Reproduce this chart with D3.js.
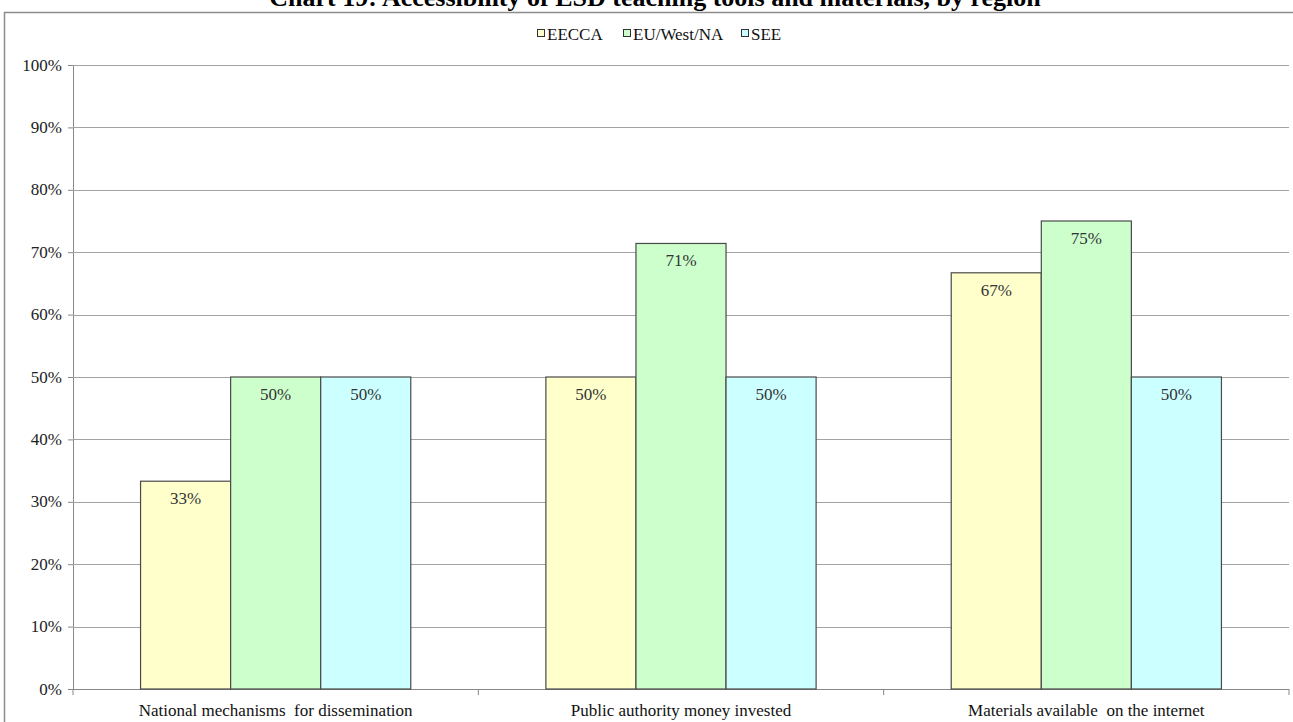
<!DOCTYPE html>
<html>
<head>
<meta charset="utf-8">
<script src="https://cdn.jsdelivr.net/npm/d3@7"></script>
<style>
body { margin: 0; background: #fff; }
svg text { font-family: "Liberation Serif", "Times New Roman", serif; }
</style>
</head>
<body>
<div id="container"></div>
<script>
var categories = ['National mechanisms  for dissemination', 'Public authority money invested', 'Materials available  on the internet'];
var regions = ['EECCA', 'EU/West/NA', 'SEE'];
var eecca = [33.3, 50, 66.7];
var euWestNa = [50, 71.4, 75];
var see = [50, 50, 50];
var yTicks = [0, 10, 20, 30, 40, 50, 60, 70, 80, 90, 100];
var colors = ['#ffffcc', '#ccffcc', '#ccffff'];
var title = 'Chart 19: Accessibility of ESD teaching tools and materials, by region';

var seriesValues = [eecca, euWestNa, see];

var data = categories.map(function(c, i) {
    return {
        cat: c,
        values: regions.map(function(r, j) {
            return {region: r, value: seriesValues[j][i], idx: j};
        })
    };
});

var W = 1293, H = 722;
var margin = {top: 65, right: 4, bottom: 33, left: 73};
var width = W - margin.left - margin.right,
    height = H - margin.top - margin.bottom;

var svg = d3.select('#container').append('svg')
    .attr('width', W)
    .attr('height', H);

// outer chart frame (only top and left edges are visible)
svg.append('path')
    .attr('d', 'M4.5,' + H + 'V12.5H' + W)
    .attr('fill', 'none')
    .attr('stroke', '#8c8c8c')
    .attr('stroke-width', 1.5);

svg.append('text')
    .attr('x', 655)
    .attr('y', 6)
    .attr('text-anchor', 'middle')
    .attr('font-size', 26)
    .attr('font-weight', 'bold')
    .text(title);

var g = svg.append('g')
    .attr('transform', 'translate(' + margin.left + ',' + margin.top + ')');

var x0 = d3.scaleBand().domain(categories).range([0, width]).paddingInner(0).paddingOuter(0);
var x1 = d3.scaleBand().domain(regions).range([0, x0.bandwidth()]).paddingInner(0).paddingOuter(0.75);
var y = d3.scaleLinear().domain([0, 100]).range([height, 0]);

// y axis with gridlines
var yAxis = d3.axisLeft(y)
    .tickValues(yTicks)
    .tickFormat(function(d) { return d + '%'; })
    .tickSize(5)
    .tickPadding(6);

var yg = g.append('g').attr('class', 'axis axis--y').call(yAxis);
yg.select('.domain').attr('stroke', '#888');
yg.selectAll('.tick line').attr('stroke', '#888');
yg.selectAll('.tick text').attr('font-size', 17).attr('fill', '#222').attr('dy', '0.3em');

g.append('g').selectAll('line.grid')
    .data(yTicks)
    .enter().append('line')
    .attr('class', 'grid')
    .attr('x1', 0)
    .attr('x2', width)
    .attr('y1', function(d) { return Math.round(y(d)) + 0.5; })
    .attr('y2', function(d) { return Math.round(y(d)) + 0.5; })
    .attr('stroke', function(d) { return d === 0 ? '#888' : '#a3a3a3'; })
    .attr('stroke-width', 1.2);

// x axis
var xAxis = d3.axisBottom(x0).tickSize(0).tickPadding(15);
var xg = g.append('g')
    .attr('transform', 'translate(0,' + height + ')')
    .call(xAxis);
xg.select('.domain').remove();
xg.selectAll('.tick text').attr('font-size', 17).attr('fill', '#111').style('white-space', 'pre');

g.append('g').selectAll('line.xtick')
    .data(d3.range(categories.length + 1))
    .enter().append('line')
    .attr('x1', function(d) { return d * x0.bandwidth(); })
    .attr('x2', function(d) { return d * x0.bandwidth(); })
    .attr('y1', height)
    .attr('y2', height + 6)
    .attr('stroke', '#888');

// bars
var groups = g.selectAll('g.cat')
    .data(data)
    .enter().append('g')
    .attr('class', 'cat')
    .attr('transform', function(d) { return 'translate(' + x0(d.cat) + ',0)'; });

groups.selectAll('rect')
    .data(function(d) { return d.values; })
    .enter().append('rect')
    .attr('x', function(d) { return x1(d.region); })
    .attr('y', function(d) { return y(d.value); })
    .attr('width', x1.bandwidth())
    .attr('height', function(d) { return height - y(d.value); })
    .attr('fill', function(d) { return colors[d.idx]; })
    .attr('stroke', '#4a4a4a')
    .attr('stroke-width', 1.2);

groups.selectAll('text.lbl')
    .data(function(d) { return d.values; })
    .enter().append('text')
    .attr('class', 'lbl')
    .attr('x', function(d) { return x1(d.region) + x1.bandwidth() / 2; })
    .attr('y', function(d) { return y(d.value) + 23; })
    .attr('text-anchor', 'middle')
    .attr('font-size', 17)
    .attr('fill', '#333')
    .text(function(d) { return Math.round(d.value) + '%'; });

// legend
var legend = svg.append('g').attr('transform', 'translate(537,35)');
var offsets = [0, 86, 204];
regions.forEach(function(r, i) {
    var item = legend.append('g').attr('transform', 'translate(' + offsets[i] + ',0)');
    item.append('rect')
        .attr('x', 0.5)
        .attr('y', -5.5)
        .attr('width', 7)
        .attr('height', 7)
        .attr('fill', colors[i])
        .attr('stroke', '#333');
    item.append('text')
        .attr('x', 10)
        .attr('y', 5)
        .attr('font-size', 17)
        .attr('fill', '#111')
        .text(r);
});
</script>
</body>
</html>
